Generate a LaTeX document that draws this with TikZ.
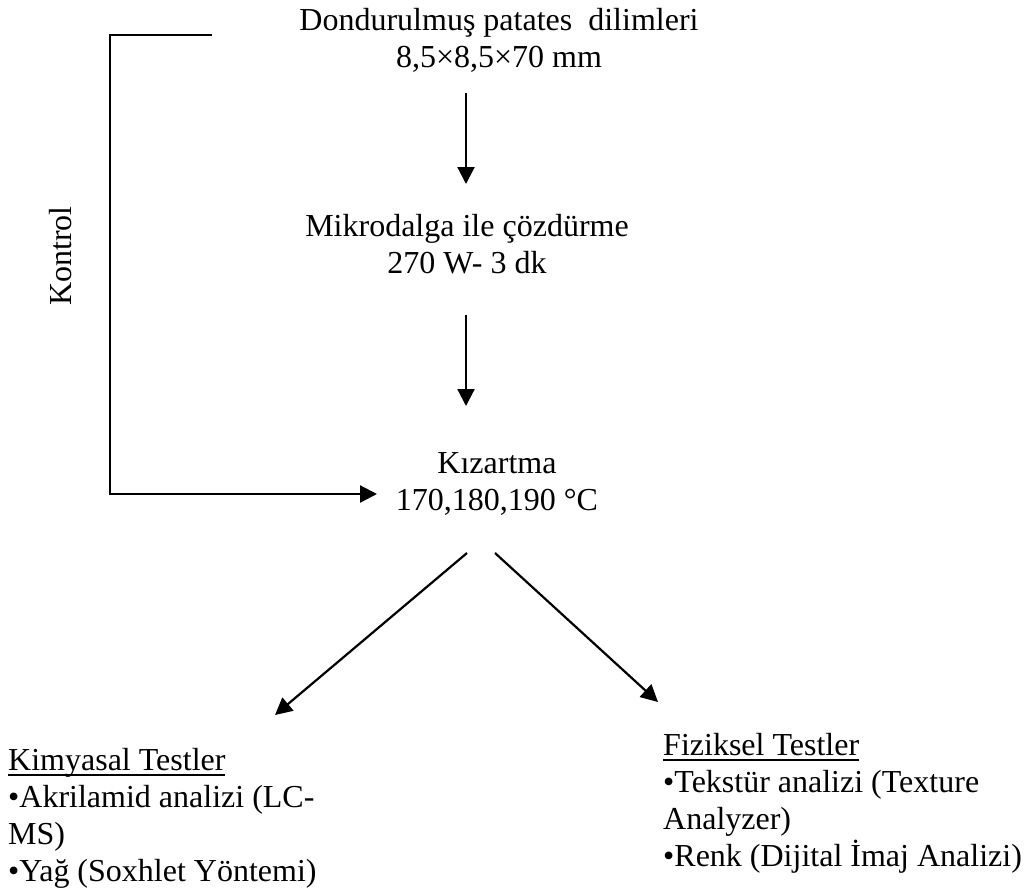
\documentclass[tikz,border=0pt]{standalone}
\usepackage{fontspec}
\setmainfont{Liberation Serif}
\usetikzlibrary{arrows.meta}
\newcommand\myuline[1]{\setbox0\hbox{#1}\rlap{\rule[-5.5pt]{\wd0}{1.5pt}}\box0}
\tikzset{
  lbl/.style={inner sep=0pt, font=\fontsize{32}{37}\selectfont},
  flow/.style={line width=2.2pt, -{Triangle[length=17pt,width=17pt]}}
}
\begin{document}
\begin{tikzpicture}[x=1pt,y=-1pt]
\useasboundingbox[fill=white] (0,0) rectangle (1030,892);
\node[lbl, align=center, anchor=base] (t1) at (499,67) {Dondurulmuş patates\ \ dilimleri\\8,5×8,5×70 mm};
\node[lbl, align=center, anchor=base] (t2) at (467,273) {Mikrodalga ile çözdürme\\270 W- 3 dk};
\node[lbl, align=center, anchor=base] (t3) at (497,510) {Kızartma\\170,180,190 °C};
\node[lbl, rotate=90] (k) at (61,256) {Kontrol};
\node[lbl, align=left, anchor=base west] (kim) at (8,881) {\myuline{Kimyasal Testler}\\•Akrilamid analizi (LC-\\MS)\\•Yağ (Soxhlet Yöntemi)};
\node[lbl, align=left, anchor=base west] (fiz) at (663,866) {\myuline{Fiziksel Testler}\\•Tekstür analizi (Texture\\Analyzer)\\•Renk (Dijital İmaj Analizi)};
\coordinate (a1s) at (466,93);
\coordinate (a1e) at (466,184);
\coordinate (a2s) at (466,315);
\coordinate (a2e) at (466,406);
\coordinate (b1) at (212,35);
\coordinate (b2) at (110,35);
\coordinate (b3) at (110,494);
\coordinate (b4) at (377,494);
\coordinate (d0l) at (467,553);
\coordinate (d1) at (275,715);
\coordinate (d0r) at (495,553);
\coordinate (d2) at (658,702);
\draw[flow] (a1s) -- (a1e);
\draw[flow] (a2s) -- (a2e);
\draw[flow] (b1) -- (b2) -- (b3) -- (b4);
\draw[flow] (d0l) -- (d1);
\draw[flow] (d0r) -- (d2);
\end{tikzpicture}
\end{document}
